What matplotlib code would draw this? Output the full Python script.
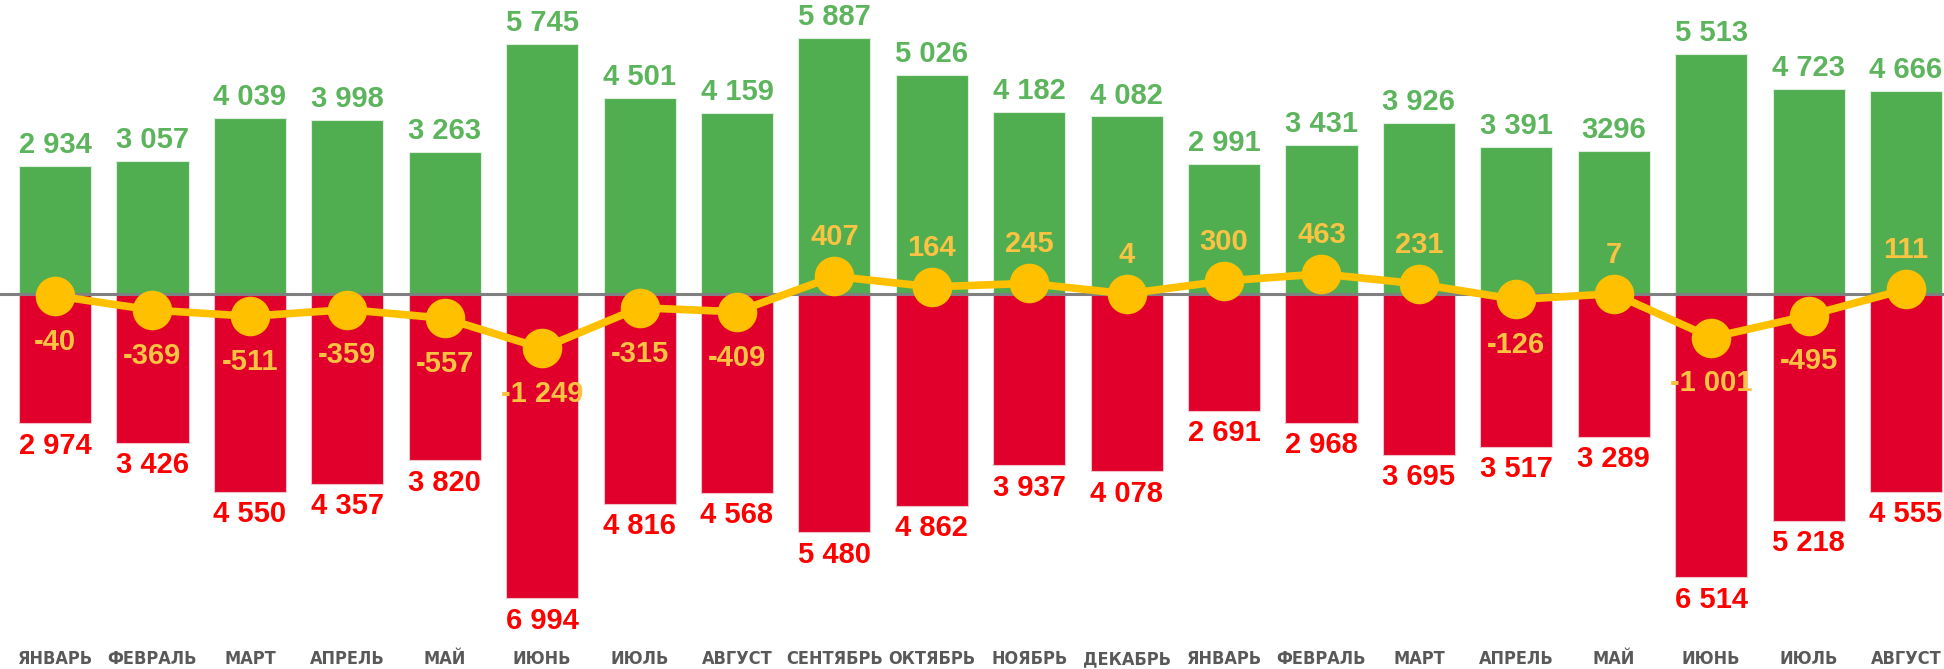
import matplotlib
matplotlib.use("Agg")
import matplotlib.pyplot as plt

months = ["ЯНВАРЬ", "ФЕВРАЛЬ", "МАРТ", "АПРЕЛЬ", "МАЙ", "ИЮНЬ", "ИЮЛЬ", "АВГУСТ",
          "СЕНТЯБРЬ", "ОКТЯБРЬ", "НОЯБРЬ", "ДЕКАБРЬ", "ЯНВАРЬ", "ФЕВРАЛЬ", "МАРТ",
          "АПРЕЛЬ", "МАЙ", "ИЮНЬ", "ИЮЛЬ", "АВГУСТ"]
income = [2934, 3057, 4039, 3998, 3263, 5745, 4501, 4159, 5887, 5026,
          4182, 4082, 2991, 3431, 3926, 3391, 3296, 5513, 4723, 4666]
expense = [2974, 3426, 4550, 4357, 3820, 6994, 4816, 4568, 5480, 4862,
           3937, 4078, 2691, 2968, 3695, 3517, 3289, 6514, 5218, 4555]
net = [-40, -369, -511, -359, -557, -1249, -315, -409, 407, 164,
       245, 4, 300, 463, 231, -126, 7, -1001, -495, 111]


def fmt(v):
    # thousands separated by a space
    return "{:,}".format(v).replace(",", " ")


income_labels = [fmt(v) for v in income]
income_labels[16] = "3296"  # written without a space in the original

GREEN = "#50AE50"
RED = "#E0002B"
YELLOW = "#FFC000"

fig = plt.figure(figsize=(19.44, 6.69), dpi=100)
ax = fig.add_axes([0, 1 - 635 / 669, 1, 635 / 669])

x = list(range(len(months)))
ax.bar(x, income, width=0.74, color=GREEN, edgecolor="#DDEEDD", linewidth=0.8, zorder=2)
ax.bar(x, [-v for v in expense], width=0.74, color=RED, edgecolor="#F2C0C8", linewidth=0.8, zorder=2)
ax.axhline(0, color="#808080", linewidth=2.2, zorder=3)
ax.plot(x, net, color=YELLOW, linewidth=5.5, marker="o", markersize=27.5, zorder=4)

for i in x:
    ax.annotate(income_labels[i], (i, income[i]), xytext=(0, 5), textcoords="offset points",
                ha="center", va="bottom", fontsize=21, fontweight="bold",
                color="#5CB55C", family="Liberation Sans")
    ax.annotate(fmt(expense[i]), (i, -expense[i]), xytext=(0, -6), textcoords="offset points",
                ha="center", va="top", fontsize=21, fontweight="bold",
                color="#FF0000", family="Liberation Sans")
    off = 28 if net[i] > 0 else -33
    ax.annotate(fmt(net[i]), (i, net[i]), xytext=(0, off), textcoords="offset points",
                ha="center", va="center", fontsize=21, fontweight="bold",
                color="#FBC342", family="Liberation Sans", zorder=5)

ax.set_xlim(-0.565, 19.39)
ax.set_ylim(-7839, 6759)
ax.set_xticks(x)
ax.set_xticklabels(months, fontsize=13, fontweight="bold", color="#595959",
                   family="DejaVu Sans", fontstretch="condensed")
ax.tick_params(axis="x", length=0, pad=11)
ax.set_yticks([])
for s in ax.spines.values():
    s.set_visible(False)

fig.savefig("out.png", dpi=100)
